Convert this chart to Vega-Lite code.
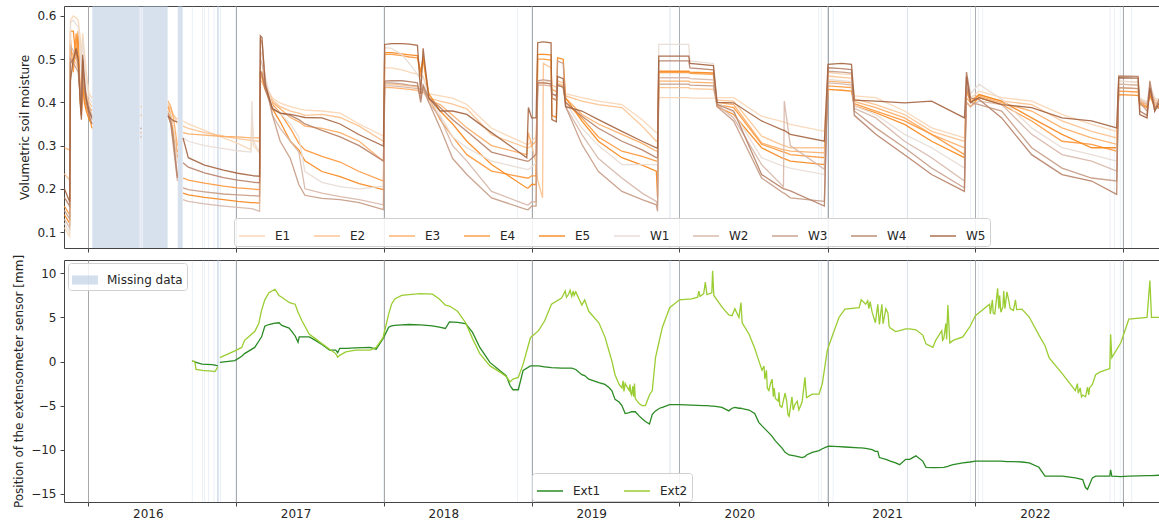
{
  "$schema": "https://vega.github.io/schema/vega-lite/v6.json",
  "padding": {"left": 12, "top": 5, "right": 0, "bottom": 5},
  "background": "white",
  "datasets": {
    "gapsBig": [
      {"d": "2016-01-12", "d2": "2016-05-08"},
      {"d": "2016-05-10", "d2": "2016-05-13"},
      {"d": "2016-05-15", "d2": "2016-07-16"},
      {"d": "2016-08-10", "d2": "2016-08-22"}
    ],
    "gapsThin": [
      {"d": "2016-09-14", "d2": "2016-09-15"},
      {"d": "2016-10-09", "d2": "2016-10-10"},
      {"d": "2016-10-15", "d2": "2016-10-16"},
      {"d": "2016-10-25", "d2": "2016-10-26"},
      {"d": "2016-11-07", "d2": "2016-11-08"},
      {"d": "2016-11-15", "d2": "2016-11-17"},
      {"d": "2016-11-18", "d2": "2016-11-20"},
      {"d": "2016-11-23", "d2": "2016-11-24"},
      {"d": "2016-12-31", "d2": "2017-01-01"},
      {"d": "2017-12-31", "d2": "2018-01-01"},
      {"d": "2018-11-27", "d2": "2018-11-28"},
      {"d": "2018-12-31", "d2": "2019-01-01"},
      {"d": "2019-12-07", "d2": "2019-12-08"},
      {"d": "2019-12-10", "d2": "2019-12-11"},
      {"d": "2019-12-31", "d2": "2020-01-01"},
      {"d": "2020-12-10", "d2": "2020-12-11"},
      {"d": "2020-12-17", "d2": "2020-12-18"},
      {"d": "2020-12-31", "d2": "2021-01-02"},
      {"d": "2021-01-14", "d2": "2021-01-15"},
      {"d": "2021-07-16", "d2": "2021-07-18"},
      {"d": "2021-12-19", "d2": "2021-12-20"},
      {"d": "2021-12-31", "d2": "2022-01-01"},
      {"d": "2022-01-09", "d2": "2022-01-10"},
      {"d": "2022-01-19", "d2": "2022-01-20"},
      {"d": "2022-11-29", "d2": "2022-11-30"},
      {"d": "2022-12-10", "d2": "2022-12-11"},
      {"d": "2022-12-24", "d2": "2022-12-25"},
      {"d": "2022-12-31", "d2": "2023-01-01"},
      {"d": "2023-01-22", "d2": "2023-01-23"}
    ]
  },
  "vconcat": [
    {
      "width": 1096,
      "height": 242,
      "encoding": {
        "x": {
          "field": "d",
          "type": "temporal",
          "scale": {"type": "utc", "domain": [{"year": 2015, "month": 11, "date": 3, "utc": true}, {"year": 2023, "month": 4, "date": 2, "utc": true}]},
          "axis": {
            "title": null,
            "labels": false,
            "grid": true,
            "gridColor": "#a8a8a8",
            "values": [
              {"year": 2016, "month": 1, "date": 1, "utc": true},
              {"year": 2017, "month": 1, "date": 1, "utc": true},
              {"year": 2018, "month": 1, "date": 1, "utc": true},
              {"year": 2019, "month": 1, "date": 1, "utc": true},
              {"year": 2020, "month": 1, "date": 1, "utc": true},
              {"year": 2021, "month": 1, "date": 1, "utc": true},
              {"year": 2022, "month": 1, "date": 1, "utc": true},
              {"year": 2023, "month": 1, "date": 1, "utc": true}
            ]
          }
        }
      },
      "layer": [
        {
          "data": {"name": "gapsBig"},
          "mark": {"type": "rect", "fill": "#b0c4de", "opacity": 0.5},
          "encoding": {"x2": {"field": "d2"}}
        },
        {
          "data": {"name": "gapsThin"},
          "mark": {"type": "rect", "fill": "#b0c4de", "opacity": 0.6},
          "encoding": {"x2": {"field": "d2"}}
        },
        {
          "data": {"values": [
            {"d":"2015-11-04","s":1,"E1":0.11,"E2":0.235,"E3":0.295,"E4":0.16,"E5":0.14,"W1":0.12,"W2":0.13,"W3":0.15,"W4":0.18,"W5":0.2},
            {"d":"2015-11-17","s":1,"E1":0.09,"E2":0.22,"E3":0.29,"E4":0.14,"E5":0.12,"W1":0.1,"W2":0.11,"W3":0.13,"W4":0.16,"W5":0.17},
            {"d":"2015-11-19","s":1,"E1":0.59,"E2":0.5,"E3":0.52,"E4":0.545,"E5":0.565,"W1":0.585,"W2":0.53,"W3":0.5,"W4":0.49,"W5":0.45},
            {"d":"2015-11-26","s":1,"E1":0.6,"E2":0.5,"E3":0.51,"E4":0.47,"E5":0.565,"W1":0.59,"W2":0.52,"W3":0.49,"W4":0.5,"W5":0.5},
            {"d":"2015-12-03","s":1,"E1":0.595,"E2":0.49,"E3":0.5,"E4":0.56,"E5":0.5,"W1":0.58,"W2":0.5,"W3":0.48,"W4":0.52,"W5":0.525},
            {"d":"2015-12-08","s":1,"E1":0.59,"E2":0.48,"E3":0.49,"E4":0.5,"E5":0.565,"W1":0.575,"W2":0.49,"W3":0.47,"W4":0.5,"W5":0.5},
            {"d":"2015-12-13","s":1,"E1":0.55,"E2":0.44,"E3":0.43,"E4":0.4,"E5":0.42,"W1":0.52,"W2":0.43,"W3":0.42,"W4":0.41,"W5":0.4},
            {"d":"2015-12-16","s":1,"E1":0.5,"E2":0.41,"E3":0.4,"E4":0.37,"E5":0.38,"W1":0.47,"W2":0.39,"W3":0.38,"W4":0.37,"W5":0.36},
            {"d":"2015-12-19","s":1,"E1":0.56,"E2":0.48,"E3":0.47,"E4":0.5,"E5":0.45,"W1":0.55,"W2":0.5,"W3":0.49,"W4":0.5,"W5":0.51},
            {"d":"2015-12-23","s":1,"E1":0.52,"E2":0.43,"E3":0.42,"E4":0.41,"E5":0.4,"W1":0.5,"W2":0.44,"W3":0.43,"W4":0.44,"W5":0.46},
            {"d":"2015-12-28","s":1,"E1":0.47,"E2":0.42,"E3":0.41,"E4":0.39,"E5":0.38,"W1":0.45,"W2":0.41,"W3":0.4,"W4":0.4,"W5":0.41},
            {"d":"2016-01-04","s":1,"E1":0.42,"E2":0.4,"E3":0.39,"E4":0.37,"E5":0.36,"W1":0.41,"W2":0.39,"W3":0.38,"W4":0.37,"W5":0.38},
            {"d":"2016-01-11","s":1,"E1":0.41,"E2":0.39,"E3":0.38,"E4":0.34,"E5":0.35,"W1":0.4,"W2":0.37,"W3":0.36,"W4":0.35,"W5":0.365},
            {"d":"2016-05-10","s":2,"E3":0.39,"E4":0.37,"E5":0.33,"W4":0.32,"W5":0.34},
            {"d":"2016-05-12","s":2,"E3":0.39,"E4":0.37,"E5":0.33,"W4":0.32,"W5":0.34},
            {"d":"2016-07-17","s":3,"E1":0.39,"E2":0.395,"E3":0.403,"E4":0.39,"E5":0.38,"W1":0.38,"W2":0.37,"W3":0.375,"W4":0.37,"W5":0.368},
            {"d":"2016-07-24","s":3,"E1":0.38,"E2":0.385,"E3":0.39,"E4":0.37,"E5":0.365,"W1":0.37,"W2":0.35,"W3":0.355,"W4":0.35,"W5":0.362},
            {"d":"2016-07-31","s":3,"E1":0.37,"E2":0.37,"E3":0.36,"E4":0.33,"E5":0.32,"W1":0.34,"W2":0.29,"W3":0.31,"W4":0.3,"W5":0.357},
            {"d":"2016-08-09","s":3,"E1":0.35,"E2":0.36,"E3":0.3,"E4":0.285,"E5":0.272,"W1":0.26,"W2":0.218,"W3":0.23,"W4":0.225,"W5":0.355},
            {"d":"2016-08-23","s":4,"E1":0.357,"E2":0.345,"E3":0.33,"E4":0.225,"E5":0.19,"W1":0.318,"W2":0.175,"W3":0.202,"W4":0.26,"W5":0.318},
            {"d":"2016-09-05","s":4,"E1":0.35,"E2":0.34,"E3":0.327,"E4":0.22,"E5":0.186,"W1":0.31,"W2":0.171,"W3":0.198,"W4":0.25,"W5":0.272},
            {"d":"2016-10-15","s":4,"E1":0.335,"E2":0.33,"E3":0.324,"E4":0.213,"E5":0.18,"W1":0.3,"W2":0.165,"W3":0.193,"W4":0.237,"W5":0.255},
            {"d":"2016-12-01","s":4,"E1":0.318,"E2":0.322,"E3":0.321,"E4":0.206,"E5":0.175,"W1":0.293,"W2":0.16,"W3":0.188,"W4":0.226,"W5":0.243},
            {"d":"2017-01-05","s":4,"E1":0.305,"E2":0.316,"E3":0.32,"E4":0.202,"E5":0.171,"W1":0.288,"W2":0.157,"W3":0.186,"W4":0.22,"W5":0.236},
            {"d":"2017-02-07","s":4,"E1":0.29,"E2":0.312,"E3":0.318,"E4":0.2,"E5":0.168,"W1":0.285,"W2":0.154,"W3":0.184,"W4":0.216,"W5":0.231},
            {"d":"2017-02-09","s":4,"E1":0.37,"E2":0.312,"E3":0.318,"E4":0.2,"E5":0.168,"W1":0.403,"W2":0.154,"W3":0.184,"W4":0.216,"W5":0.231},
            {"d":"2017-02-13","s":4,"E1":0.3,"E2":0.311,"E3":0.318,"E4":0.199,"E5":0.168,"W1":0.31,"W2":0.153,"W3":0.184,"W4":0.215,"W5":0.23},
            {"d":"2017-02-28","s":4,"E1":0.283,"E2":0.31,"E3":0.318,"E4":0.198,"E5":0.167,"W1":0.285,"W2":0.148,"W3":0.183,"W4":0.214,"W5":0.229},
            {"d":"2017-03-02","s":4,"E1":0.47,"E2":0.46,"E3":0.45,"E4":0.472,"E5":0.465,"W1":0.519,"W2":0.5,"W3":0.545,"W4":0.472,"W5":0.554},
            {"d":"2017-03-06","s":4,"E1":0.465,"E2":0.455,"E3":0.448,"E4":0.47,"E5":0.46,"W1":0.51,"W2":0.49,"W3":0.54,"W4":0.465,"W5":0.55},
            {"d":"2017-03-14","s":4,"E1":0.44,"E2":0.44,"E3":0.43,"E4":0.44,"E5":0.43,"W1":0.46,"W2":0.44,"W3":0.45,"W4":0.43,"W5":0.44},
            {"d":"2017-04-01","s":4,"E1":0.41,"E2":0.405,"E3":0.4,"E4":0.395,"E5":0.385,"W1":0.39,"W2":0.37,"W3":0.37,"W4":0.385,"W5":0.385},
            {"d":"2017-04-20","s":4,"E1":0.398,"E2":0.39,"E3":0.385,"E4":0.375,"E5":0.355,"W1":0.375,"W2":0.34,"W3":0.31,"W4":0.375,"W5":0.375},
            {"d":"2017-05-15","s":4,"E1":0.39,"E2":0.38,"E3":0.365,"E4":0.34,"E5":0.31,"W1":0.35,"W2":0.31,"W3":0.27,"W4":0.37,"W5":0.372},
            {"d":"2017-06-05","s":4,"E1":0.385,"E2":0.375,"E3":0.355,"E4":0.305,"E5":0.29,"W1":0.32,"W2":0.285,"W3":0.21,"W4":0.36,"W5":0.368},
            {"d":"2017-06-20","s":4,"E1":0.382,"E2":0.37,"E3":0.345,"E4":0.29,"E5":0.265,"W1":0.24,"W2":0.2,"W3":0.185,"W4":0.35,"W5":0.365},
            {"d":"2017-08-01","s":4,"E1":0.38,"E2":0.372,"E3":0.34,"E4":0.275,"E5":0.24,"W1":0.215,"W2":0.19,"W3":0.178,"W4":0.335,"W5":0.364},
            {"d":"2017-09-15","s":4,"E1":0.375,"E2":0.365,"E3":0.33,"E4":0.262,"E5":0.228,"W1":0.205,"W2":0.182,"W3":0.175,"W4":0.32,"W5":0.35},
            {"d":"2017-11-01","s":4,"E1":0.35,"E2":0.345,"E3":0.31,"E4":0.24,"E5":0.212,"W1":0.2,"W2":0.175,"W3":0.168,"W4":0.3,"W5":0.325},
            {"d":"2017-12-31","s":4,"E1":0.322,"E2":0.31,"E3":0.264,"E4":0.218,"E5":0.198,"W1":0.206,"W2":0.163,"W3":0.152,"W4":0.264,"W5":0.299},
            {"d":"2018-01-03","s":4,"E1":0.48,"E2":0.442,"E3":0.434,"E4":0.511,"E5":0.515,"W1":0.527,"W2":0.438,"W3":0.445,"W4":0.449,"W5":0.534},
            {"d":"2018-01-20","s":4,"E1":0.48,"E2":0.442,"E3":0.434,"E4":0.511,"E5":0.515,"W1":0.525,"W2":0.438,"W3":0.445,"W4":0.45,"W5":0.536},
            {"d":"2018-02-15","s":4,"E1":0.475,"E2":0.44,"E3":0.432,"E4":0.508,"E5":0.512,"W1":0.51,"W2":0.436,"W3":0.443,"W4":0.45,"W5":0.536},
            {"d":"2018-03-05","s":4,"E1":0.47,"E2":0.438,"E3":0.43,"E4":0.505,"E5":0.51,"W1":0.49,"W2":0.434,"W3":0.44,"W4":0.448,"W5":0.535},
            {"d":"2018-03-25","s":4,"E1":0.465,"E2":0.436,"E3":0.428,"E4":0.503,"E5":0.508,"W1":0.465,"W2":0.432,"W3":0.438,"W4":0.445,"W5":0.532},
            {"d":"2018-04-02","s":4,"E1":0.46,"E2":0.43,"E3":0.42,"E4":0.46,"E5":0.47,"W1":0.45,"W2":0.43,"W3":0.41,"W4":0.4,"W5":0.42},
            {"d":"2018-04-08","s":4,"E1":0.46,"E2":0.432,"E3":0.425,"E4":0.5,"E5":0.505,"W1":0.46,"W2":0.43,"W3":0.435,"W4":0.44,"W5":0.525},
            {"d":"2018-04-22","s":4,"E1":0.42,"E2":0.41,"E3":0.405,"E4":0.41,"E5":0.42,"W1":0.41,"W2":0.4,"W3":0.4,"W4":0.41,"W5":0.41},
            {"d":"2018-05-20","s":4,"E1":0.415,"E2":0.403,"E3":0.395,"E4":0.36,"E5":0.38,"W1":0.37,"W2":0.364,"W3":0.341,"W4":0.388,"W5":0.38},
            {"d":"2018-06-20","s":4,"E1":0.41,"E2":0.396,"E3":0.37,"E4":0.32,"E5":0.35,"W1":0.32,"W2":0.3,"W3":0.27,"W4":0.36,"W5":0.38},
            {"d":"2018-07-25","s":4,"E1":0.395,"E2":0.385,"E3":0.341,"E4":0.279,"E5":0.31,"W1":0.295,"W2":0.264,"W3":0.233,"W4":0.333,"W5":0.372},
            {"d":"2018-09-24","s":4,"E1":0.34,"E2":0.325,"E3":0.3,"E4":0.241,"E5":0.256,"W1":0.264,"W2":0.194,"W3":0.179,"W4":0.285,"W5":0.33},
            {"d":"2018-12-20","s":4,"E1":0.303,"E2":0.295,"E3":0.279,"E4":0.225,"E5":0.202,"W1":0.245,"W2":0.163,"W3":0.152,"W4":0.264,"W5":0.272},
            {"d":"2018-12-24","s":4,"E1":0.303,"E2":0.295,"E3":0.33,"E4":0.225,"E5":0.202,"W1":0.245,"W2":0.163,"W3":0.152,"W4":0.264,"W5":0.388},
            {"d":"2019-01-01","s":4,"E1":0.31,"E2":0.3,"E3":0.3,"E4":0.23,"E5":0.21,"W1":0.25,"W2":0.17,"W3":0.16,"W4":0.27,"W5":0.364},
            {"d":"2019-01-12","s":4,"E1":0.32,"E2":0.26,"E3":0.31,"E4":0.23,"E5":0.21,"W1":0.26,"W2":0.17,"W3":0.16,"W4":0.28,"W5":0.364},
            {"d":"2019-01-16","s":4,"E1":0.44,"E2":0.22,"E3":0.445,"E4":0.5,"E5":0.511,"W1":0.45,"W2":0.44,"W3":0.45,"W4":0.445,"W5":0.538},
            {"d":"2019-01-28","s":4,"E1":0.44,"E2":0.179,"E3":0.445,"E4":0.5,"E5":0.511,"W1":0.45,"W2":0.44,"W3":0.452,"W4":0.445,"W5":0.54},
            {"d":"2019-01-30","s":4,"E1":0.44,"E2":0.49,"E3":0.445,"E4":0.5,"E5":0.511,"W1":0.45,"W2":0.44,"W3":0.452,"W4":0.445,"W5":0.54},
            {"d":"2019-02-18","s":4,"E1":0.438,"E2":0.48,"E3":0.443,"E4":0.498,"E5":0.51,"W1":0.448,"W2":0.438,"W3":0.45,"W4":0.443,"W5":0.538},
            {"d":"2019-02-20","s":4,"E1":0.43,"E2":0.44,"E3":0.43,"E4":0.41,"E5":0.37,"W1":0.42,"W2":0.42,"W3":0.41,"W4":0.42,"W5":0.36},
            {"d":"2019-03-03","s":4,"E1":0.425,"E2":0.435,"E3":0.425,"E4":0.405,"E5":0.365,"W1":0.415,"W2":0.415,"W3":0.405,"W4":0.415,"W5":0.355},
            {"d":"2019-03-06","s":4,"E1":0.445,"E2":0.45,"E3":0.442,"E4":0.44,"E5":0.503,"W1":0.44,"W2":0.44,"W3":0.496,"W4":0.44,"W5":0.46},
            {"d":"2019-03-20","s":4,"E1":0.44,"E2":0.445,"E3":0.438,"E4":0.435,"E5":0.5,"W1":0.435,"W2":0.435,"W3":0.49,"W4":0.435,"W5":0.455},
            {"d":"2019-03-26","s":4,"E1":0.42,"E2":0.415,"E3":0.41,"E4":0.4,"E5":0.41,"W1":0.4,"W2":0.39,"W3":0.39,"W4":0.4,"W5":0.39},
            {"d":"2019-05-05","s":4,"E1":0.411,"E2":0.403,"E3":0.372,"E4":0.364,"E5":0.357,"W1":0.341,"W2":0.326,"W3":0.303,"W4":0.368,"W5":0.38},
            {"d":"2019-06-15","s":4,"E1":0.403,"E2":0.395,"E3":0.35,"E4":0.32,"E5":0.31,"W1":0.3,"W2":0.27,"W3":0.24,"W4":0.34,"W5":0.36},
            {"d":"2019-08-12","s":4,"E1":0.395,"E2":0.388,"E3":0.326,"E4":0.287,"E5":0.272,"W1":0.256,"W2":0.225,"W3":0.194,"W4":0.31,"W5":0.333},
            {"d":"2019-10-01","s":4,"E1":0.36,"E2":0.345,"E3":0.305,"E4":0.275,"E5":0.255,"W1":0.256,"W2":0.19,"W3":0.175,"W4":0.29,"W5":0.31},
            {"d":"2019-11-05","s":4,"E1":0.33,"E2":0.31,"E3":0.287,"E4":0.264,"E5":0.241,"W1":0.256,"W2":0.171,"W3":0.163,"W4":0.272,"W5":0.295},
            {"d":"2019-11-08","s":4,"E1":0.33,"E2":0.31,"E3":0.287,"E4":0.264,"E5":0.179,"W1":0.256,"W2":0.16,"W3":0.148,"W4":0.272,"W5":0.295},
            {"d":"2019-11-11","s":4,"E1":0.411,"E2":0.434,"E3":0.449,"E4":0.469,"E5":0.472,"W1":0.534,"W2":0.457,"W3":0.442,"W4":0.496,"W5":0.507},
            {"d":"2020-01-24","s":4,"E1":0.411,"E2":0.434,"E3":0.449,"E4":0.469,"E5":0.472,"W1":0.534,"W2":0.457,"W3":0.442,"W4":0.496,"W5":0.507},
            {"d":"2020-01-27","s":4,"E1":0.41,"E2":0.432,"E3":0.447,"E4":0.467,"E5":0.47,"W1":0.496,"W2":0.455,"W3":0.44,"W4":0.48,"W5":0.49},
            {"d":"2020-03-25","s":4,"E1":0.41,"E2":0.43,"E3":0.445,"E4":0.465,"E5":0.468,"W1":0.49,"W2":0.452,"W3":0.438,"W4":0.475,"W5":0.485},
            {"d":"2020-04-03","s":4,"E1":0.411,"E2":0.405,"E3":0.4,"E4":0.395,"E5":0.39,"W1":0.4,"W2":0.395,"W3":0.39,"W4":0.395,"W5":0.4},
            {"d":"2020-05-14","s":4,"E1":0.411,"E2":0.403,"E3":0.395,"E4":0.388,"E5":0.372,"W1":0.376,"W2":0.364,"W3":0.357,"W4":0.38,"W5":0.399},
            {"d":"2020-07-22","s":4,"E1":0.368,"E2":0.322,"E3":0.306,"E4":0.303,"E5":0.295,"W1":0.272,"W2":0.256,"W3":0.225,"W4":0.233,"W5":0.357},
            {"d":"2020-09-14","s":4,"E1":0.355,"E2":0.3,"E3":0.29,"E4":0.285,"E5":0.27,"W1":0.252,"W2":0.205,"W3":0.19,"W4":0.2,"W5":0.335},
            {"d":"2020-09-16","s":4,"E1":0.355,"E2":0.3,"E3":0.29,"E4":0.285,"E5":0.27,"W1":0.252,"W2":0.403,"W3":0.19,"W4":0.2,"W5":0.335},
            {"d":"2020-10-01","s":4,"E1":0.349,"E2":0.295,"E3":0.287,"E4":0.279,"E5":0.264,"W1":0.248,"W2":0.3,"W3":0.179,"W4":0.195,"W5":0.326},
            {"d":"2020-12-24","s":4,"E1":0.333,"E2":0.295,"E3":0.283,"E4":0.272,"E5":0.256,"W1":0.233,"W2":0.245,"W3":0.171,"W4":0.16,"W5":0.31},
            {"d":"2021-01-02","s":4,"E1":0.469,"E2":0.461,"E3":0.449,"E4":0.438,"E5":0.43,"W1":0.453,"W2":0.445,"W3":0.472,"W4":0.48,"W5":0.488},
            {"d":"2021-02-05","s":4,"E1":0.466,"E2":0.458,"E3":0.447,"E4":0.436,"E5":0.428,"W1":0.45,"W2":0.443,"W3":0.47,"W4":0.478,"W5":0.49},
            {"d":"2021-03-01","s":4,"E1":0.464,"E2":0.456,"E3":0.445,"E4":0.434,"E5":0.426,"W1":0.448,"W2":0.44,"W3":0.468,"W4":0.476,"W5":0.488},
            {"d":"2021-03-08","s":4,"E1":0.415,"E2":0.408,"E3":0.402,"E4":0.397,"E5":0.392,"W1":0.392,"W2":0.386,"W3":0.38,"W4":0.37,"W5":0.405},
            {"d":"2021-04-30","s":4,"E1":0.411,"E2":0.395,"E3":0.388,"E4":0.38,"E5":0.376,"W1":0.372,"W2":0.364,"W3":0.341,"W4":0.326,"W5":0.403},
            {"d":"2021-07-10","s":4,"E1":0.38,"E2":0.372,"E3":0.364,"E4":0.357,"E5":0.349,"W1":0.326,"W2":0.31,"W3":0.295,"W4":0.279,"W5":0.399},
            {"d":"2021-09-15","s":4,"E1":0.341,"E2":0.333,"E3":0.326,"E4":0.326,"E5":0.31,"W1":0.295,"W2":0.272,"W3":0.248,"W4":0.233,"W5":0.403},
            {"d":"2021-12-05","s":4,"E1":0.318,"E2":0.31,"E3":0.295,"E4":0.279,"E5":0.272,"W1":0.248,"W2":0.218,"W3":0.202,"W4":0.194,"W5":0.364},
            {"d":"2021-12-10","s":4,"E1":0.43,"E2":0.42,"E3":0.41,"E4":0.4,"E5":0.43,"W1":0.47,"W2":0.4,"W3":0.44,"W4":0.47,"W5":0.46},
            {"d":"2021-12-20","s":4,"E1":0.41,"E2":0.405,"E3":0.4,"E4":0.39,"E5":0.4,"W1":0.42,"W2":0.39,"W3":0.4,"W4":0.41,"W5":0.4},
            {"d":"2022-01-10","s":4,"E1":0.426,"E2":0.418,"E3":0.415,"E4":0.411,"E5":0.418,"W1":0.442,"W2":0.403,"W3":0.395,"W4":0.407,"W5":0.411},
            {"d":"2022-03-07","s":4,"E1":0.411,"E2":0.403,"E3":0.399,"E4":0.395,"E5":0.403,"W1":0.407,"W2":0.395,"W3":0.38,"W4":0.364,"W5":0.395},
            {"d":"2022-05-20","s":4,"E1":0.403,"E2":0.395,"E3":0.38,"E4":0.357,"E5":0.364,"W1":0.341,"W2":0.326,"W3":0.295,"W4":0.279,"W5":0.388},
            {"d":"2022-08-03","s":4,"E1":0.372,"E2":0.357,"E3":0.341,"E4":0.31,"E5":0.326,"W1":0.295,"W2":0.279,"W3":0.248,"W4":0.233,"W5":0.364},
            {"d":"2022-10-15","s":4,"E1":0.349,"E2":0.333,"E3":0.318,"E4":0.303,"E5":0.295,"W1":0.279,"W2":0.264,"W3":0.225,"W4":0.218,"W5":0.357},
            {"d":"2022-12-16","s":4,"E1":0.333,"E2":0.318,"E3":0.303,"E4":0.287,"E5":0.295,"W1":0.264,"W2":0.241,"W3":0.218,"W4":0.187,"W5":0.341},
            {"d":"2022-12-21","s":4,"E1":0.449,"E2":0.442,"E3":0.434,"E4":0.426,"E5":0.418,"W1":0.449,"W2":0.442,"W3":0.434,"W4":0.461,"W5":0.457},
            {"d":"2023-02-07","s":4,"E1":0.447,"E2":0.44,"E3":0.432,"E4":0.424,"E5":0.416,"W1":0.447,"W2":0.44,"W3":0.432,"W4":0.46,"W5":0.456},
            {"d":"2023-02-11","s":4,"E1":0.41,"E2":0.405,"E3":0.4,"E4":0.4,"E5":0.395,"W1":0.41,"W2":0.405,"W3":0.4,"W4":0.38,"W5":0.372},
            {"d":"2023-03-01","s":4,"E1":0.4,"E2":0.4,"E3":0.395,"E4":0.39,"E5":0.388,"W1":0.4,"W2":0.395,"W3":0.38,"W4":0.37,"W5":0.364},
            {"d":"2023-03-08","s":4,"E1":0.43,"E2":0.43,"E3":0.425,"E4":0.42,"E5":0.415,"W1":0.44,"W2":0.43,"W3":0.43,"W4":0.45,"W5":0.434},
            {"d":"2023-03-20","s":4,"E1":0.41,"E2":0.405,"E3":0.4,"E4":0.395,"E5":0.39,"W1":0.41,"W2":0.4,"W3":0.39,"W4":0.38,"W5":0.38},
            {"d":"2023-04-01","s":4,"E1":0.403,"E2":0.4,"E3":0.395,"E4":0.39,"E5":0.388,"W1":0.405,"W2":0.395,"W3":0.385,"W4":0.41,"W5":0.4}
          ]},
          "transform": [
            {"fold": ["E1", "E2", "E3", "E4", "E5", "W1", "W2", "W3", "W4", "W5"], "as": ["sensor", "vwc"]},
            {"filter": "isValid(datum.vwc)"}
          ],
          "mark": {"type": "line", "strokeWidth": 1.3, "opacity": 0.9, "clip": true},
          "encoding": {
            "y": {
              "field": "vwc",
              "type": "quantitative",
              "scale": {"domain": [0.063, 0.623], "nice": false, "zero": false},
              "axis": {"title": "Volumetric soil moisture", "values": [0.1, 0.2, 0.3, 0.4, 0.5, 0.6], "format": ".1f", "grid": false}
            },
            "color": {
              "field": "sensor",
              "type": "nominal",
              "scale": {
                "domain": ["E1", "E2", "E3", "E4", "E5", "W1", "W2", "W3", "W4", "W5"],
                "range": ["#f9d5b4", "#fcc08c", "#fdab62", "#fd9638", "#f7861a", "#e8dbd4", "#d6b6a7", "#c59a84", "#b68066", "#a4633f"]
              },
              "legend": {
                "orient": "none",
                "legendX": 170,
                "legendY": 212,
                "direction": "horizontal",
                "columns": 10,
                "title": null
              }
            },
            "detail": {"field": "s"}
          }
        }
      ]
    },
    {
      "width": 1096,
      "height": 242,
      "encoding": {
        "x": {
          "field": "d",
          "type": "temporal",
          "scale": {"type": "utc", "domain": [{"year": 2015, "month": 11, "date": 3, "utc": true}, {"year": 2023, "month": 4, "date": 2, "utc": true}]},
          "axis": {
            "title": null,
            "grid": true,
            "gridColor": "#a8a8a8",
            "labelOverlap": false,
            "labelFlush": false,
            "labelPadding": 2,
            "labelExpr": "utcmonth(datum.value) == 4 ? utcFormat(datum.value, '%Y') : ''",
            "tickOpacity": {"condition": {"test": "utcmonth(datum.value) == 4", "value": 0}, "value": 1},
            "gridOpacity": {"condition": {"test": "utcmonth(datum.value) == 4", "value": 0}, "value": 1},
            "values": [
              {"year": 2016, "month": 1, "date": 1, "utc": true},
              {"year": 2016, "month": 5, "date": 28, "utc": true},
              {"year": 2017, "month": 1, "date": 1, "utc": true},
              {"year": 2017, "month": 5, "date": 28, "utc": true},
              {"year": 2018, "month": 1, "date": 1, "utc": true},
              {"year": 2018, "month": 5, "date": 28, "utc": true},
              {"year": 2019, "month": 1, "date": 1, "utc": true},
              {"year": 2019, "month": 5, "date": 28, "utc": true},
              {"year": 2020, "month": 1, "date": 1, "utc": true},
              {"year": 2020, "month": 5, "date": 28, "utc": true},
              {"year": 2021, "month": 1, "date": 1, "utc": true},
              {"year": 2021, "month": 5, "date": 28, "utc": true},
              {"year": 2022, "month": 1, "date": 1, "utc": true},
              {"year": 2022, "month": 5, "date": 28, "utc": true},
              {"year": 2023, "month": 1, "date": 1, "utc": true}
            ]
          }
        }
      },
      "layer": [
        {
          "data": {"name": "gapsThin"},
          "mark": {"type": "rect", "opacity": 0.6},
          "encoding": {
            "x2": {"field": "d2"},
            "fill": {
              "datum": "Missing data",
              "type": "nominal",
              "scale": {"range": ["#b0c4de"]},
              "legend": {
                "orient": "none",
                "legendX": 4,
                "legendY": 3,
                "title": null,
                "symbolType": "M-1,-0.35H1V0.35H-1Z",
                "symbolSize": 676,
                "symbolOpacity": 0.55,
                "symbolStrokeWidth": 0
              }
            }
          }
        },
        {
          "data": {"values": [
            {"d":"2016-09-14","s":1,"Ext1":0.05,"Ext2":0.05},
            {"d":"2016-09-21","s":1,"Ext1":0.0,"Ext2":0.0},
            {"d":"2016-09-24","s":1,"Ext1":-0.1,"Ext2":-0.9},
            {"d":"2016-10-09","s":1,"Ext1":-0.3,"Ext2":-1.0},
            {"d":"2016-11-02","s":1,"Ext1":-0.35,"Ext2":-1.1},
            {"d":"2016-11-10","s":1,"Ext1":-0.4,"Ext2":-1.15},
            {"d":"2016-11-17","s":1,"Ext1":-0.5,"Ext2":-0.6},
            {"d":"2016-11-22","s":2,"Ext1":-0.1,"Ext2":0.45},
            {"d":"2016-12-29","s":2,"Ext1":0.1,"Ext2":1.2},
            {"d":"2017-01-15","s":2,"Ext1":0.6,"Ext2":1.6},
            {"d":"2017-01-22","s":2,"Ext1":0.9,"Ext2":2.4},
            {"d":"2017-02-16","s":2,"Ext1":1.6,"Ext2":3.4},
            {"d":"2017-02-26","s":2,"Ext1":2.3,"Ext2":4.3},
            {"d":"2017-03-05","s":2,"Ext1":2.8,"Ext2":5.8},
            {"d":"2017-03-13","s":2,"Ext1":4.0,"Ext2":7.0},
            {"d":"2017-03-23","s":2,"Ext1":4.2,"Ext2":7.8},
            {"d":"2017-04-07","s":2,"Ext1":4.35,"Ext2":8.2},
            {"d":"2017-04-17","s":2,"Ext1":4.4,"Ext2":7.5},
            {"d":"2017-04-24","s":2,"Ext1":4.1,"Ext2":7.3},
            {"d":"2017-05-12","s":2,"Ext1":3.8,"Ext2":6.7},
            {"d":"2017-05-19","s":2,"Ext1":3.4,"Ext2":6.6},
            {"d":"2017-05-27","s":2,"Ext1":2.9,"Ext2":6.5},
            {"d":"2017-06-03","s":2,"Ext1":2.2,"Ext2":5.6},
            {"d":"2017-06-06","s":2,"Ext1":2.8,"Ext2":5.3},
            {"d":"2017-06-13","s":2,"Ext1":2.8,"Ext2":4.6},
            {"d":"2017-07-01","s":2,"Ext1":2.8,"Ext2":3.1},
            {"d":"2017-07-16","s":2,"Ext1":2.4,"Ext2":2.6},
            {"d":"2017-08-02","s":2,"Ext1":1.9,"Ext2":2.0},
            {"d":"2017-08-20","s":2,"Ext1":1.3,"Ext2":1.4},
            {"d":"2017-09-04","s":2,"Ext1":1.3,"Ext2":0.9},
            {"d":"2017-09-09","s":2,"Ext1":1.0,"Ext2":0.5},
            {"d":"2017-09-14","s":2,"Ext1":1.5,"Ext2":0.7},
            {"d":"2017-09-29","s":2,"Ext1":1.5,"Ext2":1.1},
            {"d":"2017-10-23","s":2,"Ext1":1.55,"Ext2":1.3},
            {"d":"2017-11-28","s":2,"Ext1":1.6,"Ext2":1.3},
            {"d":"2017-12-13","s":2,"Ext1":1.4,"Ext2":1.6},
            {"d":"2017-12-30","s":2,"Ext1":2.6,"Ext2":2.7},
            {"d":"2018-01-13","s":2,"Ext1":3.9,"Ext2":5.4},
            {"d":"2018-01-20","s":2,"Ext1":4.05,"Ext2":6.5},
            {"d":"2018-01-28","s":2,"Ext1":4.1,"Ext2":7.1},
            {"d":"2018-02-14","s":2,"Ext1":4.15,"Ext2":7.5},
            {"d":"2018-03-04","s":2,"Ext1":4.2,"Ext2":7.6},
            {"d":"2018-04-01","s":2,"Ext1":4.15,"Ext2":7.7},
            {"d":"2018-05-01","s":2,"Ext1":4.05,"Ext2":7.65},
            {"d":"2018-05-18","s":2,"Ext1":3.9,"Ext2":7.1},
            {"d":"2018-06-02","s":2,"Ext1":3.75,"Ext2":6.4},
            {"d":"2018-06-12","s":2,"Ext1":4.5,"Ext2":6.3},
            {"d":"2018-07-02","s":2,"Ext1":4.45,"Ext2":5.7},
            {"d":"2018-07-22","s":2,"Ext1":4.3,"Ext2":4.4},
            {"d":"2018-08-08","s":2,"Ext1":3.3,"Ext2":2.6},
            {"d":"2018-08-26","s":2,"Ext1":1.6,"Ext2":0.9},
            {"d":"2018-09-20","s":2,"Ext1":-0.1,"Ext2":-0.5},
            {"d":"2018-10-15","s":2,"Ext1":-1.05,"Ext2":-1.2},
            {"d":"2018-10-30","s":2,"Ext1":-1.6,"Ext2":-1.7},
            {"d":"2018-11-09","s":2,"Ext1":-2.75,"Ext2":-2.3},
            {"d":"2018-11-16","s":2,"Ext1":-3.2,"Ext2":-2.0},
            {"d":"2018-11-29","s":2,"Ext1":-3.2,"Ext2":-1.8},
            {"d":"2018-12-11","s":2,"Ext1":-1.0,"Ext2":-0.3},
            {"d":"2018-12-29","s":2,"Ext1":-0.5,"Ext2":2.7},
            {"d":"2019-01-18","s":2,"Ext1":-0.5,"Ext2":3.5},
            {"d":"2019-02-02","s":2,"Ext1":-0.6,"Ext2":4.6},
            {"d":"2019-02-19","s":2,"Ext1":-0.7,"Ext2":6.5},
            {"d":"2019-03-16","s":2,"Ext1":-0.75,"Ext2":7.2},
            {"d":"2019-03-25","s":2,"Ext2":8.0},
            {"d":"2019-03-28","s":2,"Ext2":7.3},
            {"d":"2019-04-02","s":2,"Ext1":-0.75,"Ext2":7.6},
            {"d":"2019-04-06","s":2,"Ext1":-0.75,"Ext2":8.1},
            {"d":"2019-04-10","s":2,"Ext1":-0.75,"Ext2":7.4},
            {"d":"2019-04-14","s":2,"Ext2":8.0},
            {"d":"2019-04-16","s":2,"Ext2":7.5},
            {"d":"2019-04-20","s":2,"Ext1":-0.9,"Ext2":7.9},
            {"d":"2019-04-27","s":2,"Ext2":7.2},
            {"d":"2019-05-05","s":2,"Ext1":-1.5,"Ext2":6.4},
            {"d":"2019-05-12","s":2,"Ext1":-1.6,"Ext2":7.0},
            {"d":"2019-05-22","s":2,"Ext1":-2.0,"Ext2":5.7},
            {"d":"2019-06-16","s":2,"Ext1":-2.4,"Ext2":4.4},
            {"d":"2019-07-01","s":2,"Ext1":-2.6,"Ext2":2.8},
            {"d":"2019-07-11","s":2,"Ext1":-2.95,"Ext2":1.2},
            {"d":"2019-07-18","s":2,"Ext1":-3.3,"Ext2":0.1},
            {"d":"2019-07-26","s":2,"Ext1":-4.3,"Ext2":-1.5},
            {"d":"2019-08-05","s":2,"Ext1":-4.6,"Ext2":-2.6},
            {"d":"2019-08-12","s":2,"Ext1":-5.0,"Ext2":-3.0},
            {"d":"2019-08-15","s":2,"Ext2":-2.2},
            {"d":"2019-08-17","s":2,"Ext2":-3.4},
            {"d":"2019-08-20","s":2,"Ext1":-5.9,"Ext2":-2.5},
            {"d":"2019-08-30","s":2,"Ext1":-5.8,"Ext2":-3.3},
            {"d":"2019-09-01","s":2,"Ext2":-2.6},
            {"d":"2019-09-03","s":2,"Ext2":-3.6},
            {"d":"2019-09-05","s":2,"Ext1":-5.7,"Ext2":-3.8},
            {"d":"2019-09-08","s":2,"Ext1":-5.7,"Ext2":-2.8},
            {"d":"2019-09-10","s":2,"Ext2":-4.0},
            {"d":"2019-09-12","s":2,"Ext2":-2.5},
            {"d":"2019-09-14","s":2,"Ext1":-5.7,"Ext2":-4.2},
            {"d":"2019-09-24","s":2,"Ext1":-6.2,"Ext2":-4.8},
            {"d":"2019-10-01","s":2,"Ext1":-6.5,"Ext2":-5.0},
            {"d":"2019-10-09","s":2,"Ext1":-6.8,"Ext2":-5.0},
            {"d":"2019-10-19","s":2,"Ext1":-7.1,"Ext2":-3.8},
            {"d":"2019-10-26","s":2,"Ext1":-6.0,"Ext2":-3.3},
            {"d":"2019-11-03","s":2,"Ext1":-5.6,"Ext2":0.45},
            {"d":"2019-11-13","s":2,"Ext1":-5.3,"Ext2":2.5},
            {"d":"2019-11-20","s":2,"Ext1":-5.2,"Ext2":3.9},
            {"d":"2019-12-08","s":2,"Ext1":-4.9,"Ext2":6.1},
            {"d":"2020-01-01","s":2,"Ext1":-4.9,"Ext2":7.0},
            {"d":"2020-01-31","s":2,"Ext1":-4.95,"Ext2":7.1},
            {"d":"2020-02-15","s":2,"Ext2":7.3},
            {"d":"2020-02-18","s":2,"Ext2":8.0},
            {"d":"2020-02-21","s":2,"Ext2":7.4},
            {"d":"2020-03-01","s":2,"Ext1":-5.0,"Ext2":7.7},
            {"d":"2020-03-05","s":2,"Ext1":-5.0,"Ext2":9.0},
            {"d":"2020-03-09","s":2,"Ext1":-5.0,"Ext2":7.6},
            {"d":"2020-03-21","s":2,"Ext1":-5.05,"Ext2":7.8},
            {"d":"2020-03-23","s":2,"Ext1":-5.05,"Ext2":10.3},
            {"d":"2020-03-26","s":2,"Ext1":-5.05,"Ext2":7.5},
            {"d":"2020-04-15","s":2,"Ext1":-5.2,"Ext2":6.2},
            {"d":"2020-05-02","s":2,"Ext1":-5.6,"Ext2":5.3},
            {"d":"2020-05-10","s":2,"Ext1":-5.3,"Ext2":5.2},
            {"d":"2020-05-17","s":2,"Ext1":-5.2,"Ext2":6.0},
            {"d":"2020-05-27","s":2,"Ext1":-5.3,"Ext2":5.0},
            {"d":"2020-06-01","s":2,"Ext1":-5.3,"Ext2":6.7},
            {"d":"2020-06-04","s":2,"Ext1":-5.35,"Ext2":4.4},
            {"d":"2020-06-21","s":2,"Ext1":-5.5,"Ext2":3.1},
            {"d":"2020-07-05","s":2,"Ext1":-5.9,"Ext2":1.5},
            {"d":"2020-07-15","s":2,"Ext1":-6.9,"Ext2":0.1},
            {"d":"2020-07-23","s":2,"Ext1":-7.3,"Ext2":-1.0},
            {"d":"2020-07-28","s":2,"Ext2":-0.5},
            {"d":"2020-07-30","s":2,"Ext2":-2.0},
            {"d":"2020-08-03","s":2,"Ext2":-1.0},
            {"d":"2020-08-05","s":2,"Ext2":-3.0},
            {"d":"2020-08-09","s":2,"Ext1":-8.1,"Ext2":-3.3},
            {"d":"2020-08-13","s":2,"Ext2":-2.5},
            {"d":"2020-08-17","s":2,"Ext1":-8.5,"Ext2":-2.0},
            {"d":"2020-08-20","s":2,"Ext2":-4.0},
            {"d":"2020-08-22","s":2,"Ext2":-3.0},
            {"d":"2020-08-25","s":2,"Ext1":-9.0,"Ext2":-4.2},
            {"d":"2020-09-01","s":2,"Ext2":-4.5},
            {"d":"2020-09-03","s":2,"Ext2":-3.5},
            {"d":"2020-09-05","s":2,"Ext2":-5.0},
            {"d":"2020-09-10","s":2,"Ext1":-9.8,"Ext2":-5.2},
            {"d":"2020-09-18","s":2,"Ext1":-10.3,"Ext2":-3.6},
            {"d":"2020-09-22","s":2,"Ext2":-4.5},
            {"d":"2020-09-25","s":2,"Ext2":-6.0},
            {"d":"2020-09-28","s":2,"Ext1":-10.6,"Ext2":-6.2},
            {"d":"2020-10-05","s":2,"Ext2":-4.0},
            {"d":"2020-10-08","s":2,"Ext2":-5.5},
            {"d":"2020-10-12","s":2,"Ext1":-10.7,"Ext2":-4.9},
            {"d":"2020-10-18","s":2,"Ext2":-4.5},
            {"d":"2020-10-22","s":2,"Ext2":-5.5},
            {"d":"2020-10-30","s":2,"Ext1":-10.9,"Ext2":-4.6},
            {"d":"2020-11-06","s":2,"Ext1":-10.8,"Ext2":-1.8},
            {"d":"2020-11-10","s":2,"Ext1":-10.6,"Ext2":-4.1},
            {"d":"2020-11-24","s":2,"Ext1":-10.3,"Ext2":-3.7},
            {"d":"2020-12-11","s":2,"Ext1":-10.1,"Ext2":-3.7},
            {"d":"2020-12-19","s":2,"Ext1":-9.9,"Ext2":-2.5},
            {"d":"2020-12-31","s":2,"Ext1":-9.65,"Ext2":1.2},
            {"d":"2021-01-04","s":2,"Ext1":-9.6,"Ext2":1.8},
            {"d":"2021-01-29","s":2,"Ext1":-9.65,"Ext2":5.0},
            {"d":"2021-02-13","s":2,"Ext1":-9.7,"Ext2":5.95},
            {"d":"2021-03-20","s":2,"Ext1":-9.8,"Ext2":6.1},
            {"d":"2021-03-25","s":2,"Ext1":-9.8,"Ext2":7.0},
            {"d":"2021-04-05","s":2,"Ext1":-9.85,"Ext2":6.5},
            {"d":"2021-04-10","s":2,"Ext2":6.9},
            {"d":"2021-04-13","s":2,"Ext2":6.0},
            {"d":"2021-04-16","s":2,"Ext2":6.8},
            {"d":"2021-04-21","s":2,"Ext1":-10.0,"Ext2":5.6},
            {"d":"2021-04-29","s":2,"Ext1":-10.2,"Ext2":4.4},
            {"d":"2021-05-05","s":2,"Ext1":-10.2,"Ext2":6.5},
            {"d":"2021-05-09","s":2,"Ext1":-10.9,"Ext2":4.2},
            {"d":"2021-05-15","s":2,"Ext2":6.5},
            {"d":"2021-05-18","s":2,"Ext2":4.3},
            {"d":"2021-05-25","s":2,"Ext1":-11.1,"Ext2":6.0},
            {"d":"2021-05-30","s":2,"Ext2":5.5},
            {"d":"2021-06-02","s":2,"Ext2":4.0},
            {"d":"2021-06-05","s":2,"Ext1":-11.3,"Ext2":3.8},
            {"d":"2021-06-18","s":2,"Ext1":-11.5,"Ext2":3.4},
            {"d":"2021-06-28","s":2,"Ext1":-11.7,"Ext2":3.5},
            {"d":"2021-07-13","s":2,"Ext1":-11.1,"Ext2":3.7},
            {"d":"2021-07-23","s":2,"Ext1":-11.1,"Ext2":3.7},
            {"d":"2021-08-07","s":2,"Ext1":-10.7,"Ext2":3.6},
            {"d":"2021-08-24","s":2,"Ext1":-11.3,"Ext2":3.0},
            {"d":"2021-09-01","s":2,"Ext1":-12.0,"Ext2":2.0},
            {"d":"2021-09-18","s":2,"Ext1":-12.05,"Ext2":1.6},
            {"d":"2021-09-25","s":2,"Ext1":-12.05,"Ext2":2.4},
            {"d":"2021-10-10","s":2,"Ext2":3.5},
            {"d":"2021-10-12","s":2,"Ext2":2.4},
            {"d":"2021-10-15","s":2,"Ext1":-12.0,"Ext2":2.6},
            {"d":"2021-10-20","s":2,"Ext2":4.3},
            {"d":"2021-10-22","s":2,"Ext2":2.5},
            {"d":"2021-10-25","s":2,"Ext1":-11.9,"Ext2":6.4},
            {"d":"2021-10-30","s":2,"Ext1":-11.8,"Ext2":2.1},
            {"d":"2021-11-07","s":2,"Ext1":-11.7,"Ext2":2.4},
            {"d":"2021-12-01","s":2,"Ext1":-11.5,"Ext2":2.8},
            {"d":"2021-12-19","s":2,"Ext1":-11.4,"Ext2":4.0},
            {"d":"2022-01-01","s":2,"Ext1":-11.3,"Ext2":5.2},
            {"d":"2022-02-05","s":2,"Ext2":6.5},
            {"d":"2022-02-07","s":2,"Ext2":5.4},
            {"d":"2022-02-12","s":2,"Ext2":7.0},
            {"d":"2022-02-14","s":2,"Ext2":5.5},
            {"d":"2022-02-18","s":2,"Ext1":-11.3,"Ext2":5.4},
            {"d":"2022-02-25","s":2,"Ext1":-11.3,"Ext2":8.3},
            {"d":"2022-02-28","s":2,"Ext2":6.0},
            {"d":"2022-03-02","s":2,"Ext2":7.5},
            {"d":"2022-03-05","s":2,"Ext1":-11.3,"Ext2":5.6},
            {"d":"2022-03-10","s":2,"Ext2":6.2},
            {"d":"2022-03-12","s":2,"Ext2":8.0},
            {"d":"2022-03-15","s":2,"Ext2":6.0},
            {"d":"2022-03-20","s":2,"Ext1":-11.35,"Ext2":7.9},
            {"d":"2022-03-25","s":2,"Ext2":6.8},
            {"d":"2022-03-28","s":2,"Ext2":6.0},
            {"d":"2022-04-05","s":2,"Ext1":-11.35,"Ext2":5.8},
            {"d":"2022-04-10","s":2,"Ext2":7.0},
            {"d":"2022-04-13","s":2,"Ext2":5.9},
            {"d":"2022-04-26","s":2,"Ext1":-11.4,"Ext2":5.95},
            {"d":"2022-05-14","s":2,"Ext1":-11.5,"Ext2":5.05},
            {"d":"2022-06-07","s":2,"Ext1":-12.0,"Ext2":3.0},
            {"d":"2022-06-22","s":2,"Ext1":-13.0,"Ext2":1.8},
            {"d":"2022-07-02","s":2,"Ext1":-13.0,"Ext2":0.45},
            {"d":"2022-08-04","s":2,"Ext1":-13.0,"Ext2":-1.4},
            {"d":"2022-09-05","s":2,"Ext1":-13.2,"Ext2":-3.3},
            {"d":"2022-09-10","s":2,"Ext2":-2.5},
            {"d":"2022-09-12","s":2,"Ext2":-3.6},
            {"d":"2022-09-17","s":2,"Ext2":-3.0},
            {"d":"2022-09-20","s":2,"Ext2":-4.0},
            {"d":"2022-09-23","s":2,"Ext1":-13.4,"Ext2":-3.8},
            {"d":"2022-09-30","s":2,"Ext1":-14.3,"Ext2":-4.0},
            {"d":"2022-10-05","s":2,"Ext1":-14.5,"Ext2":-2.9},
            {"d":"2022-10-08","s":2,"Ext2":-3.8},
            {"d":"2022-10-10","s":2,"Ext2":-3.0},
            {"d":"2022-10-17","s":2,"Ext1":-13.2,"Ext2":-2.6},
            {"d":"2022-10-25","s":2,"Ext1":-13.0,"Ext2":-1.5},
            {"d":"2022-11-04","s":2,"Ext1":-13.0,"Ext2":-1.2},
            {"d":"2022-11-29","s":2,"Ext1":-13.0,"Ext2":-0.8},
            {"d":"2022-12-01","s":2,"Ext1":-12.3,"Ext2":3.1},
            {"d":"2022-12-04","s":2,"Ext1":-13.0,"Ext2":0.45},
            {"d":"2022-12-26","s":2,"Ext1":-13.05,"Ext2":2.1},
            {"d":"2023-01-15","s":2,"Ext1":-13.0,"Ext2":4.8},
            {"d":"2023-03-01","s":2,"Ext1":-12.95,"Ext2":5.0},
            {"d":"2023-03-08","s":2,"Ext1":-12.95,"Ext2":9.2},
            {"d":"2023-03-12","s":2,"Ext1":-12.95,"Ext2":5.0},
            {"d":"2023-04-01","s":2,"Ext1":-12.9,"Ext2":5.0}
          ]},
          "transform": [
            {"fold": ["Ext1", "Ext2"], "as": ["sensor", "pos"]},
            {"filter": "isValid(datum.pos)"}
          ],
          "mark": {"type": "line", "strokeWidth": 1.3, "clip": true},
          "encoding": {
            "y": {
              "field": "pos",
              "type": "quantitative",
              "scale": {"domain": [-15.94, 11.52], "nice": false, "zero": false},
              "axis": {"title": "Position of the extensometer sensor [mm]", "values": [-15, -10, -5, 0, 5, 10], "grid": false}
            },
            "color": {
              "field": "sensor",
              "type": "nominal",
              "scale": {"domain": ["Ext1", "Ext2"], "range": ["#2a8a23", "#9acd32"]},
              "legend": {
                "orient": "none",
                "legendX": 468,
                "legendY": 213,
                "direction": "horizontal",
                "columns": 2,
                "title": null
              }
            },
            "detail": {"field": "s"}
          }
        }
      ]
    }
  ],
  "spacing": 12,
  "bounds": "flush",
  "resolve": {
    "scale": {"color": "independent", "fill": "independent"},
    "legend": {"color": "independent", "fill": "independent"}
  },
  "config": {
    "font": "DejaVu Sans",
    "view": {"stroke": "#444444", "strokeWidth": 1},
    "axis": {
      "labelFont": "DejaVu Sans",
      "labelFontSize": 12,
      "labelColor": "#262626",
      "titleFont": "DejaVu Sans",
      "titleFontSize": 12,
      "titleFontWeight": "normal",
      "titleColor": "#262626",
      "titlePadding": 5,
      "tickColor": "#444444",
      "tickSize": 4,
      "labelPadding": 4,
      "domain": false
    },
    "legend": {
      "labelFont": "DejaVu Sans",
      "labelFontSize": 12,
      "labelColor": "#262626",
      "symbolType": "stroke",
      "symbolSize": 676,
      "symbolStrokeWidth": 1.5,
      "labelOffset": 9,
      "columnPadding": 20,
      "padding": 4,
      "fillColor": "rgba(255,255,255,0.85)",
      "strokeColor": "#d0d0d0",
      "cornerRadius": 3
    }
  }
}
